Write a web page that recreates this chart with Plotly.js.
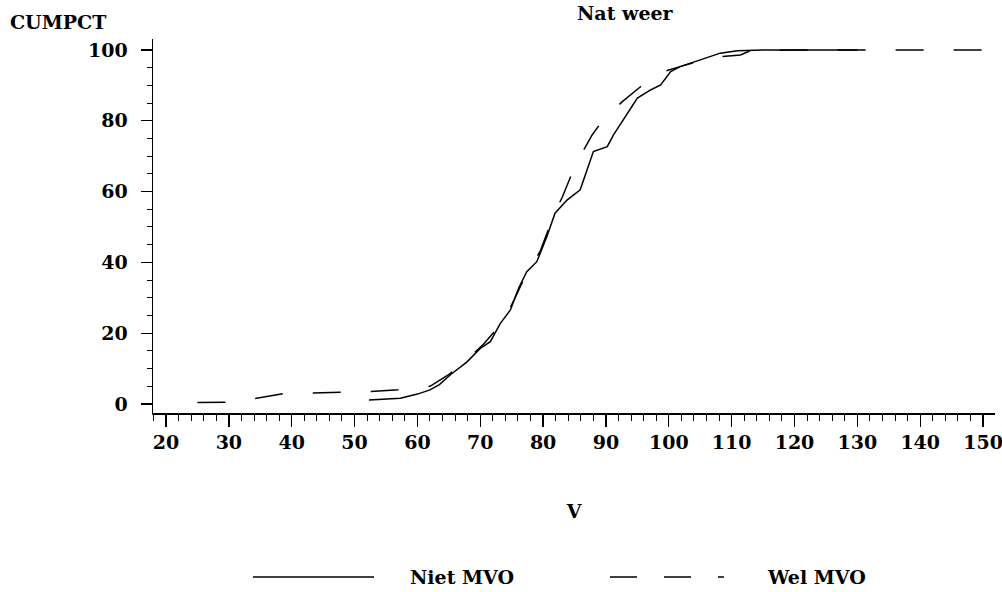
<!DOCTYPE html>
<html>
<head>
<meta charset="utf-8">
<script src="https://cdn.plot.ly/plotly-3.0.1.min.js"></script>
<style>html,body{margin:0;padding:0;background:#fff;}#chart{width:1002px;height:592px;}</style>
</head>
<body>
<div id="chart"></div>
<script>
// ---- data ----
const nietV   = [52.3, 55, 57.3, 58.4, 60, 62, 63.5, 65.2, 67.9, 70, 71.6, 73.2, 74.8, 76.1, 77.4, 79, 80.6, 81.9, 83.8, 85.9, 88, 90.2, 91.2, 95, 97.1, 98.7, 100.3, 101.8, 105, 108.2, 110.9, 115, 130];
const nietPct = [1.1, 1.3, 1.6, 2.1, 2.8, 4.0, 5.5, 8.2, 11.9, 15.7, 17.6, 22.8, 26.6, 32.7, 37.4, 40.2, 47.3, 53.9, 57.6, 60.5, 71.3, 72.7, 76, 86.4, 88.7, 90.1, 93.9, 95.3, 97.2, 99.1, 99.8, 100, 100];

const welV    = [25, 30, 34, 38.6, 43, 48, 52.6, 57, 60, 62, 64.9, 68.1, 70.5, 73, 75, 77.4, 79.5, 81.9, 83.1, 84.6, 85.9, 87.8, 89.6, 92.6, 95.5, 99.2, 101.8, 105, 107.2, 111.4, 113, 120, 150];
const welPct  = [0.4, 0.5, 1.5, 2.9, 3.1, 3.2, 3.5, 4.0, 4.5, 5.0, 8.2, 12.9, 16.9, 22, 28, 37, 43, 54.3, 58.6, 65.2, 70, 76, 80.4, 85.4, 89.6, 93.9, 95.3, 97, 97.9, 98.6, 99.8, 100, 100];

const xTicks = [20, 30, 40, 50, 60, 70, 80, 90, 100, 110, 120, 130, 140, 150];
const yTicks = [0, 20, 40, 60, 80, 100];
const seriesNames = ["Niet MVO", "Wel MVO"];
const chartTitle = "Nat weer";
const yTitle = "CUMPCT";
const xTitle = "V";

// ---- styling ----
const FONT = {family: "DejaVu Serif", size: 19, color: "#000", weight: "bold"};
const DASH = "28px,30px";

const traces = [
  {x: nietV, y: nietPct, name: seriesNames[0], type: "scatter", mode: "lines",
   line: {color: "#000", width: 1.5}, showlegend: false, hoverinfo: "x+y"},
  {x: welV, y: welPct, name: seriesNames[1], type: "scatter", mode: "lines",
   line: {color: "#000", width: 1.5, dash: DASH}, showlegend: false, hoverinfo: "x+y"}
];

const L = 153, R = 7, T = 39, B = 179;
const W = 1002, H = 592;
const pw = W - L - R, ph = H - T - B;
const px2paperX = p => (p - L) / pw;
const px2paperY = p => (H - B - p) / ph;

const legY = px2paperY(577);

const layout = {
  width: W, height: H,
  margin: {l: L, r: R, t: T, b: B},
  paper_bgcolor: "#fff", plot_bgcolor: "#fff",
  font: FONT,
  showlegend: false,
  xaxis: {
    range: [17.93, 151.9],
    tickvals: xTicks, ticktext: xTicks.map(String),
    ticks: "outside", ticklen: 12, tickwidth: 1.3, tickcolor: "#000",
    ticklabelstandoff: 0, ticklabeloverflow: "allow",
    showline: true, linecolor: "#000", linewidth: 1.5,
    showgrid: false, zeroline: false,
    minor: {dtick: 2, ticks: "outside", ticklen: 6, tickwidth: 1, tickcolor: "#000", showgrid: false},
    title: {text: xTitle, font: FONT, standoff: 52},
    tickfont: FONT, fixedrange: true
  },
  yaxis: {
    range: [-2.54, 103.1],
    tickvals: yTicks, ticktext: yTicks.map(String),
    ticks: "outside", ticklen: 11, tickwidth: 1.3, tickcolor: "#000",
    ticklabelstandoff: 9,
    showline: true, linecolor: "#000", linewidth: 1.5,
    showgrid: false, zeroline: false,
    minor: {dtick: 5, ticks: "outside", ticklen: 5, tickwidth: 1, tickcolor: "#000", showgrid: false},
    tickfont: FONT, fixedrange: true
  },
  annotations: [
    {text: yTitle, xref: "paper", yref: "paper", x: px2paperX(8), y: px2paperY(22),
     xanchor: "left", yanchor: "middle", showarrow: false, font: FONT},
    {text: chartTitle, xref: "paper", yref: "paper", x: px2paperX(625), y: px2paperY(0),
     xanchor: "center", yanchor: "top", showarrow: false, font: FONT},
    {text: seriesNames[0], xref: "paper", yref: "paper", x: px2paperX(408), y: legY,
     xanchor: "left", yanchor: "middle", showarrow: false, font: FONT},
    {text: seriesNames[1], xref: "paper", yref: "paper", x: px2paperX(765), y: legY,
     xanchor: "left", yanchor: "middle", showarrow: false, font: FONT}
  ],
  shapes: [
    {type: "line", xref: "paper", yref: "paper", x0: px2paperX(253), x1: px2paperX(374), y0: legY, y1: legY,
     line: {color: "#000", width: 1.5}},
    {type: "line", xref: "paper", yref: "paper", x0: px2paperX(610), x1: px2paperX(724), y0: legY, y1: legY,
     line: {color: "#000", width: 1.5, dash: "27px,27px"}}
  ]
};

Plotly.newPlot("chart", traces, layout, {displayModeBar: false, staticPlot: true});
</script>
</body>
</html>
